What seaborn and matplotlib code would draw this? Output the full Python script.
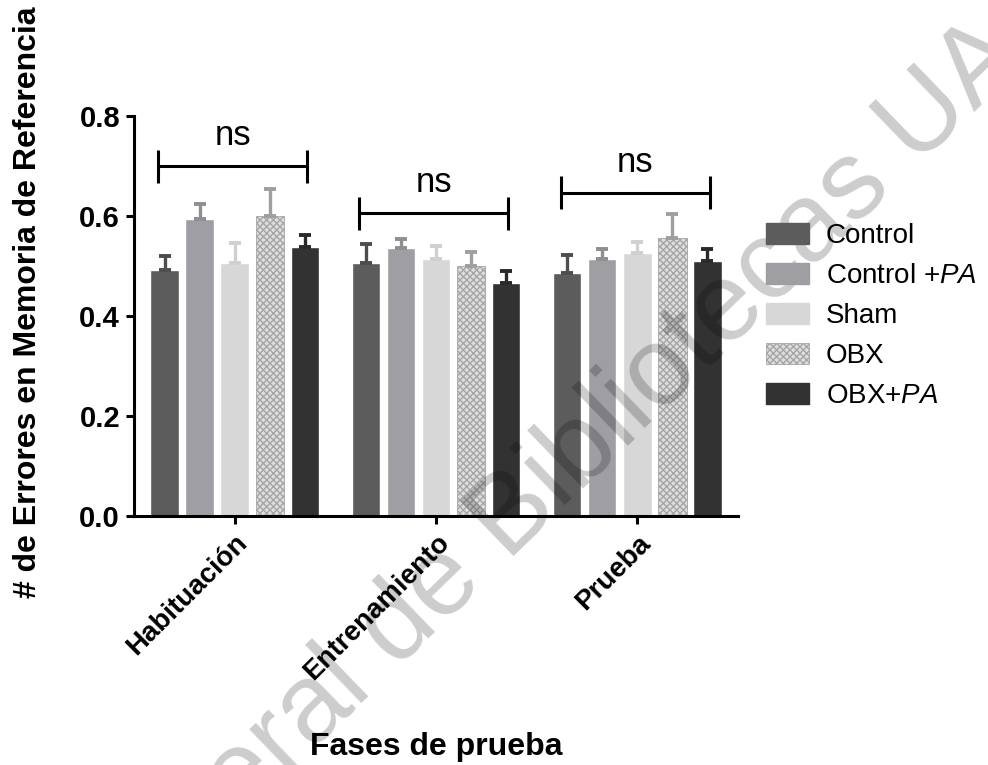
import matplotlib
matplotlib.use("Agg")
import matplotlib.pyplot as plt
from matplotlib.patches import Patch
import seaborn as sns
import pandas as pd

# Test phases (x categories) and experimental groups (hue)
phases = ["Habituación", "Entrenamiento", "Prueba"]
groups = ["Control", "Control +PA", "Sham", "OBX", "OBX+PA"]
group_labels = ["Control", "Control +$\\mathit{PA}$", "Sham", "OBX", "OBX+$\\mathit{PA}$"]

# Mean reference-memory errors per group, one value per phase
mean_control = [0.492, 0.507, 0.487]
mean_control_pa = [0.595, 0.537, 0.515]
mean_sham = [0.507, 0.515, 0.527]
mean_obx = [0.600, 0.500, 0.557]
mean_obx_pa = [0.539, 0.467, 0.511]

# Standard error of the mean (upper whisker only)
sem_control = [0.029, 0.038, 0.035]
sem_control_pa = [0.029, 0.018, 0.020]
sem_sham = [0.040, 0.025, 0.022]
sem_obx = [0.055, 0.029, 0.047]
sem_obx_pa = [0.023, 0.024, 0.024]

# Significance brackets per phase
bracket_y = [0.700, 0.606, 0.647]
bracket_text = ["ns", "ns", "ns"]

y_ticks = [0.0, 0.2, 0.4, 0.6, 0.8]

means = [mean_control, mean_control_pa, mean_sham, mean_obx, mean_obx_pa]
sems = [sem_control, sem_control_pa, sem_sham, sem_obx, sem_obx_pa]

bar_colors = ["#5c5c5c", "#9e9ea3", "#d7d7d7", "#dedede", "#323232"]
err_colors = ["#4d4d4d", "#8e8e93", "#d0d0d0", "#9f9f9f", "#2a2a2a"]

rows = []
for g, vals in zip(groups, means):
    for p, v in zip(phases, vals):
        rows.append({"phase": p, "group": g, "value": v})
df = pd.DataFrame(rows)

sns.set_style("ticks")
plt.rcParams["font.family"] = ["Liberation Sans", "DejaVu Sans"]
plt.rcParams["mathtext.fontset"] = "custom"
plt.rcParams["mathtext.rm"] = "Liberation Sans"
plt.rcParams["mathtext.it"] = "Liberation Sans:italic"
plt.rcParams["hatch.linewidth"] = 1.0
for key in ("text.color", "axes.labelcolor", "xtick.color", "ytick.color", "axes.edgecolor"):
    plt.rcParams[key] = "black"

fig = plt.figure(figsize=(9.88, 7.65), dpi=100)
ax = fig.add_axes([134 / 988, 1 - 516 / 765, (738 - 134) / 988, (516 - 116) / 765])

sns.barplot(data=df, x="phase", y="value", hue="group", order=phases,
            hue_order=groups, palette=bar_colors, width=0.87, gap=0.19,
            errorbar=None, saturation=1, legend=False, ax=ax)

# Checkered fill for the OBX group
for bar in ax.containers[3]:
    bar.set_hatch("xxxxx")
    bar.set_edgecolor("#a6a6a6")
    bar.set_linewidth(0.6)

# Upper SEM whiskers in each bar's own shade
for cont, errs, ec in zip(ax.containers, sems, err_colors):
    for bar, e in zip(cont, errs):
        xc = bar.get_x() + bar.get_width() / 2
        ax.errorbar(xc, bar.get_height(), yerr=[[0], [e]], color=ec,
                    elinewidth=2.4, capsize=4.5, capthick=2.8, zorder=3)

# "ns" brackets over each phase
for i, (yb, txt) in enumerate(zip(bracket_y, bracket_text)):
    x0, x1 = i - 0.38, i + 0.36
    ax.plot([x0, x1], [yb, yb], color="black", lw=2.2, clip_on=False, solid_capstyle="butt")
    for xe in (x0, x1):
        ax.plot([xe, xe], [yb - 0.033, yb + 0.033], color="black", lw=2.2,
                clip_on=False, solid_capstyle="butt")
    ax.text((x0 + x1) / 2, yb + 0.028, txt, ha="center", va="bottom",
            fontsize=25, clip_on=False)

ax.set_xlim(-0.5, 2.5)
ax.set_ylim(0, 0.8)
ax.set_yticks(y_ticks)
ax.set_yticklabels([f"{t:.1f}" for t in y_ticks], fontsize=21, fontweight="bold")
ax.set_xticks(range(len(phases)))
ax.set_xticklabels(phases, fontsize=20, fontweight="bold", rotation=45,
                   ha="right", rotation_mode="anchor")
ax.tick_params(axis="both", direction="out", length=6, width=2.2, pad=4)

for side in ("top", "right"):
    ax.spines[side].set_visible(False)
for side in ("left", "bottom"):
    ax.spines[side].set_linewidth(2.2)

ax.set_ylabel("# de Errores en Memoria de Referencia", fontsize=23, fontweight="bold")
ax.yaxis.set_label_coords(-0.15, 0.535)
ax.set_xlabel("Fases de prueba", fontsize=23, fontweight="bold")
ax.xaxis.set_label_coords(0.5, -0.54)

handles = []
for i, (c, lab) in enumerate(zip(bar_colors, group_labels)):
    if i == 3:
        handles.append(Patch(facecolor=c, edgecolor="#a6a6a6", hatch="xxxxx", lw=0.6, label=lab))
    else:
        handles.append(Patch(facecolor=c, edgecolor=c, label=lab))
fig.legend(handles=handles, loc="upper left", bbox_to_anchor=(766 / 988, 1 - 223 / 765),
           frameon=False, fontsize=20, handlelength=1.55, handleheight=0.78,
           handletextpad=0.6, labelspacing=0.5, borderpad=0, borderaxespad=0)

# Library watermark across the figure
fig.text(0.397, 0.172, "Dirección General de Bibliotecas UAQ", rotation=44,
         rotation_mode="anchor", ha="center", va="center", fontsize=80,
         color="black", alpha=0.2)

fig.savefig("out.png", dpi=100)
